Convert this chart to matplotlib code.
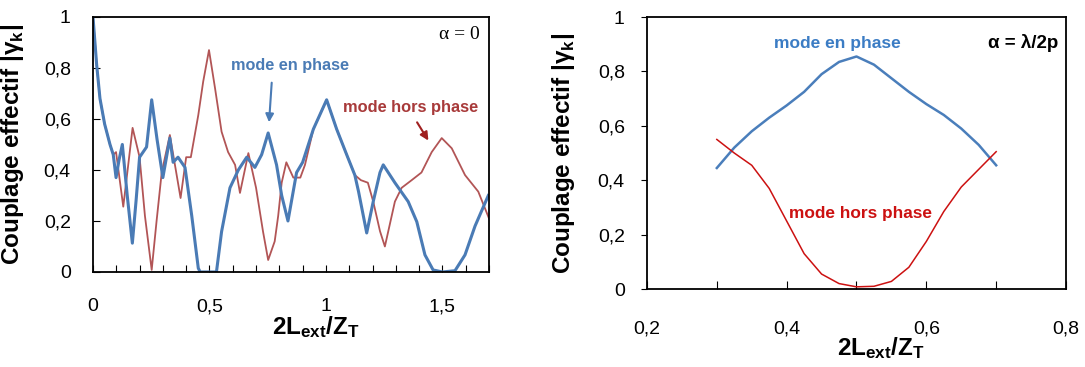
import matplotlib
matplotlib.use('Agg')
import matplotlib.pyplot as plt
from matplotlib.ticker import FuncFormatter

plt.rcParams['font.family'] = ['Liberation Sans', 'DejaVu Sans']
plt.rcParams['mathtext.fontset'] = 'custom'
plt.rcParams['mathtext.rm'] = 'Liberation Sans'
plt.rcParams['mathtext.bf'] = 'Liberation Sans:bold'

# left panel : alpha = 0
xl_blue = [0, 0.016, 0.03, 0.05, 0.073, 0.087, 0.099, 0.112, 0.126, 0.147, 0.169, 0.185,
           0.20, 0.23, 0.252, 0.275, 0.30, 0.33, 0.344, 0.365, 0.395, 0.424, 0.452, 0.46,
           0.53, 0.552, 0.588, 0.624, 0.66, 0.695, 0.724, 0.752, 0.788, 0.81, 0.837, 0.874,
           0.90, 0.946, 1.003, 1.046, 1.089, 1.124, 1.14, 1.175, 1.203, 1.232, 1.246, 1.296,
           1.353, 1.39, 1.425, 1.46, 1.50, 1.554, 1.597, 1.64, 1.697]
yl_blue = [1.0, 0.81, 0.68, 0.58, 0.50, 0.46, 0.37, 0.44, 0.50, 0.30, 0.113, 0.28,
           0.45, 0.49, 0.675, 0.52, 0.37, 0.525, 0.43, 0.45, 0.41, 0.22, 0.015, 0.0,
           0.0, 0.158, 0.33, 0.40, 0.45, 0.41, 0.46, 0.545, 0.42, 0.30, 0.20, 0.39,
           0.43, 0.56, 0.675, 0.56, 0.46, 0.38, 0.315, 0.153, 0.276, 0.39, 0.42, 0.35,
           0.276, 0.197, 0.067, 0.008, 0.0, 0.005, 0.067, 0.18, 0.30]

xl_red = [0, 0.016, 0.03, 0.05, 0.073, 0.087, 0.099, 0.13, 0.15, 0.17, 0.20, 0.223,
          0.252, 0.273, 0.295, 0.33, 0.376, 0.40, 0.42, 0.452, 0.473, 0.498, 0.524, 0.552,
          0.58, 0.61, 0.631, 0.667, 0.70, 0.73, 0.752, 0.78, 0.795, 0.81, 0.83, 0.86,
          0.89, 0.91, 0.946, 1.003, 1.046, 1.089, 1.124, 1.15, 1.18, 1.203, 1.232, 1.253,
          1.296, 1.325, 1.368, 1.41, 1.454, 1.497, 1.54, 1.597, 1.654, 1.70]
yl_red = [1.0, 0.81, 0.68, 0.58, 0.50, 0.46, 0.47, 0.256, 0.41, 0.565, 0.45, 0.22,
          0.008, 0.20, 0.39, 0.537, 0.29, 0.45, 0.45, 0.615, 0.746, 0.87, 0.72, 0.55,
          0.47, 0.42, 0.31, 0.466, 0.33, 0.158, 0.047, 0.12, 0.22, 0.35, 0.43, 0.37,
          0.37, 0.42, 0.56, 0.675, 0.56, 0.46, 0.38, 0.36, 0.35, 0.276, 0.16, 0.10,
          0.276, 0.33, 0.36, 0.39, 0.47, 0.525, 0.485, 0.38, 0.315, 0.21]

# right panel : alpha = lambda/2p
xr = [0.30, 0.325, 0.35, 0.375, 0.40, 0.425, 0.45, 0.475, 0.50, 0.525, 0.55, 0.575,
      0.60, 0.625, 0.65, 0.675, 0.70]
yr_blue = [0.445, 0.52, 0.58, 0.63, 0.675, 0.725, 0.79, 0.835, 0.855, 0.825, 0.775, 0.725,
           0.68, 0.64, 0.59, 0.53, 0.455]
yr_red = [0.55, 0.50, 0.455, 0.37, 0.25, 0.13, 0.055, 0.02, 0.008, 0.01, 0.028, 0.08,
          0.175, 0.285, 0.375, 0.44, 0.505]

xticks_left = [i / 10 for i in range(18)]
xticks_right = [0.2, 0.3, 0.4, 0.5, 0.6, 0.7, 0.8]
yticks = [0, 0.2, 0.4, 0.6, 0.8, 1]


def comma(v, pos=None):
    s = ('%.1f' % v).rstrip('0').rstrip('.')
    return s.replace('.', ',')


def main():
    fig = plt.figure(figsize=(10.85, 3.67), dpi=100)
    ax1 = fig.add_axes([0.0857, 0.2589, 0.365, 0.695])
    ax2 = fig.add_axes([0.5963, 0.2125, 0.3862, 0.741])

    ylab = 'Couplage effectif |γ$_\\mathregular{k}$|'
    xlab = r'$\mathbf{2L_{ext}/Z_T}$'

    # left
    ax1.plot(xl_red, yl_red, color='#b25556', lw=1.3)
    ax1.plot(xl_blue, yl_blue, color='#4a7bb5', lw=2.2)
    ax1.set_xlim(0, 1.7)
    ax1.set_ylim(0, 1)
    ax1.set_xticks(xticks_left)
    ax1.set_xticklabels([comma(t) if round(t * 10) % 5 == 0 else '' for t in xticks_left])
    ax1.set_yticks(yticks)
    ax1.yaxis.set_major_formatter(FuncFormatter(comma))
    ax1.tick_params(axis='x', direction='in', length=5, pad=19, labelsize=14)
    ax1.tick_params(axis='y', direction='in', length=5, pad=16, labelsize=14)
    ax1.set_ylabel(ylab, fontsize=17.5, fontweight='bold')
    ax1.yaxis.set_label_coords(-0.17, 0.5)
    ax1.set_xlabel(xlab, fontsize=17.5, va='center')
    ax1.xaxis.set_label_coords(0.563, -0.216)
    ax1.text(0.977, 0.93, 'α = 0', transform=ax1.transAxes, ha='right', va='center',
             family='Liberation Serif', fontsize=14)
    ax1.text(0.845, 0.81, 'mode en phase', color='#4a7bb5', fontsize=11.7,
             fontweight='bold', ha='center', va='center')
    ax1.annotate('', xy=(0.755, 0.576), xytext=(0.768, 0.753),
                 arrowprops=dict(arrowstyle='-|>', color='#4a7bb5', lw=1.5,
                                 mutation_scale=12))
    ax1.text(1.365, 0.643, 'mode hors phase', color='#a83a3a', fontsize=11.8,
             fontweight='bold', ha='center', va='center')
    ax1.annotate('', xy=(1.446, 0.506), xytext=(1.385, 0.596),
                 arrowprops=dict(arrowstyle='-|>', color='#a02020', lw=1.5,
                                 mutation_scale=12))

    # right
    ax2.plot(xr, yr_blue, color='#4a7ebb', lw=1.8)
    ax2.plot(xr, yr_red, color='#cc1111', lw=1.1)
    ax2.set_xlim(0.2, 0.8)
    ax2.set_ylim(0, 1)
    ax2.set_xticks(xticks_right)
    ax2.set_xticklabels([comma(t) if round(t * 10) % 2 == 0 else '' for t in xticks_right])
    ax2.set_yticks(yticks)
    ax2.yaxis.set_major_formatter(FuncFormatter(comma))
    ax2.tick_params(axis='x', direction='in', length=6, pad=23, labelsize=14)
    ax2.tick_params(axis='y', direction='out', length=4, pad=12, labelsize=14)
    ax2.set_ylabel(ylab, fontsize=17.5, fontweight='bold')
    ax2.yaxis.set_label_coords(-0.167, 0.5)
    ax2.set_xlabel(xlab, fontsize=17.5, va='center')
    ax2.xaxis.set_label_coords(0.5585, -0.217)
    ax2.text(0.981, 0.904, 'α = λ/2p', transform=ax2.transAxes, ha='right', va='center',
             fontsize=13.5, fontweight='bold')
    ax2.text(0.473, 0.904, 'mode en phase', color='#3b7cc4', fontsize=12.5,
             fontweight='bold', ha='center', va='center')
    ax2.text(0.506, 0.279, 'mode hors phase', color='#cc1111', fontsize=12.4,
             fontweight='bold', ha='center', va='center')

    for ax in (ax1, ax2):
        for s in ax.spines.values():
            s.set_linewidth(1.3)

    fig.savefig('out.png', dpi=100)


if __name__ == '__main__':
    main()
